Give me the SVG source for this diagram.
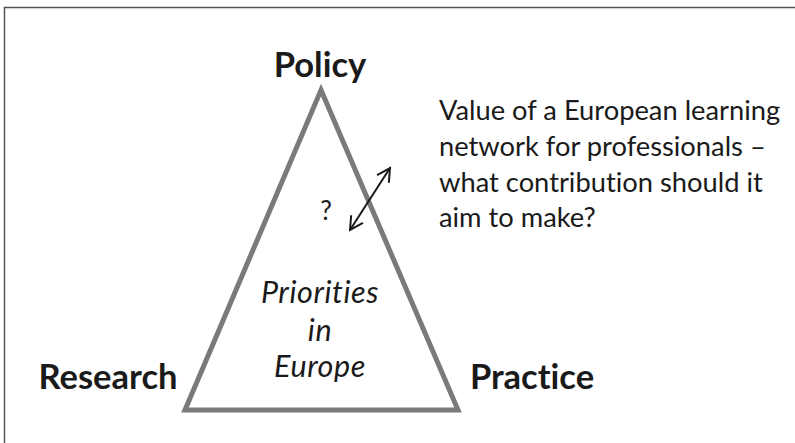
<svg xmlns="http://www.w3.org/2000/svg" width="795" height="443" viewBox="0 0 795 443">
<defs>
<style>
.lbl{font-family:Lato,"Open Sans","Liberation Sans",sans-serif;fill:#1a1a1a;font-variant-ligatures:none}
.b{font-weight:bold;font-size:34.5px}
.i{font-style:italic;font-size:30.5px;letter-spacing:0.6px}
.t{font-size:27.3px}
</style>
<marker id="ah" viewBox="0 0 16 16" refX="14" refY="8" markerWidth="16" markerHeight="16" markerUnits="userSpaceOnUse" orient="auto-start-reverse">
<path d="M1,1 L14,8 L1,15" fill="none" stroke="#1a1a1a" stroke-width="2"/>
</marker>
</defs>
<rect width="795" height="443" fill="#fff"/>
<path d="M4.5,443 V7.5 H795" fill="none" stroke="#555" stroke-width="1.5"/>
<g id="triangle">
<polygon points="321,90 458,410 185,410" fill="none" stroke="#7a7a7c" stroke-width="5"/>
<text class="lbl i" x="320" y="303" text-anchor="middle">Priorities</text>
<text class="lbl i" x="320" y="341" text-anchor="middle">in</text>
<text class="lbl i" x="320" y="377" text-anchor="middle">Europe</text>
<text class="lbl" x="326" y="220" font-size="26" text-anchor="middle">?</text>
</g>
<g id="policy"><text class="lbl b" x="320" y="77" text-anchor="middle">Policy</text></g>
<g id="research"><text class="lbl b" x="108" y="389" text-anchor="middle">Research</text></g>
<g id="practice"><text class="lbl b" x="532" y="389" text-anchor="middle">Practice</text></g>
<g id="question">
<text class="lbl t" x="439" y="120">Value of a European learning</text>
<text class="lbl t" x="439" y="156">network for professionals –</text>
<text class="lbl t" x="439" y="192">what contribution should it</text>
<text class="lbl t" x="439" y="227">aim to make?</text>
</g>
<g id="connectors">
<line x1="350" y1="230" x2="390" y2="168" stroke="#1a1a1a" stroke-width="2" marker-start="url(#ah)" marker-end="url(#ah)"/>
</g>
</svg>
